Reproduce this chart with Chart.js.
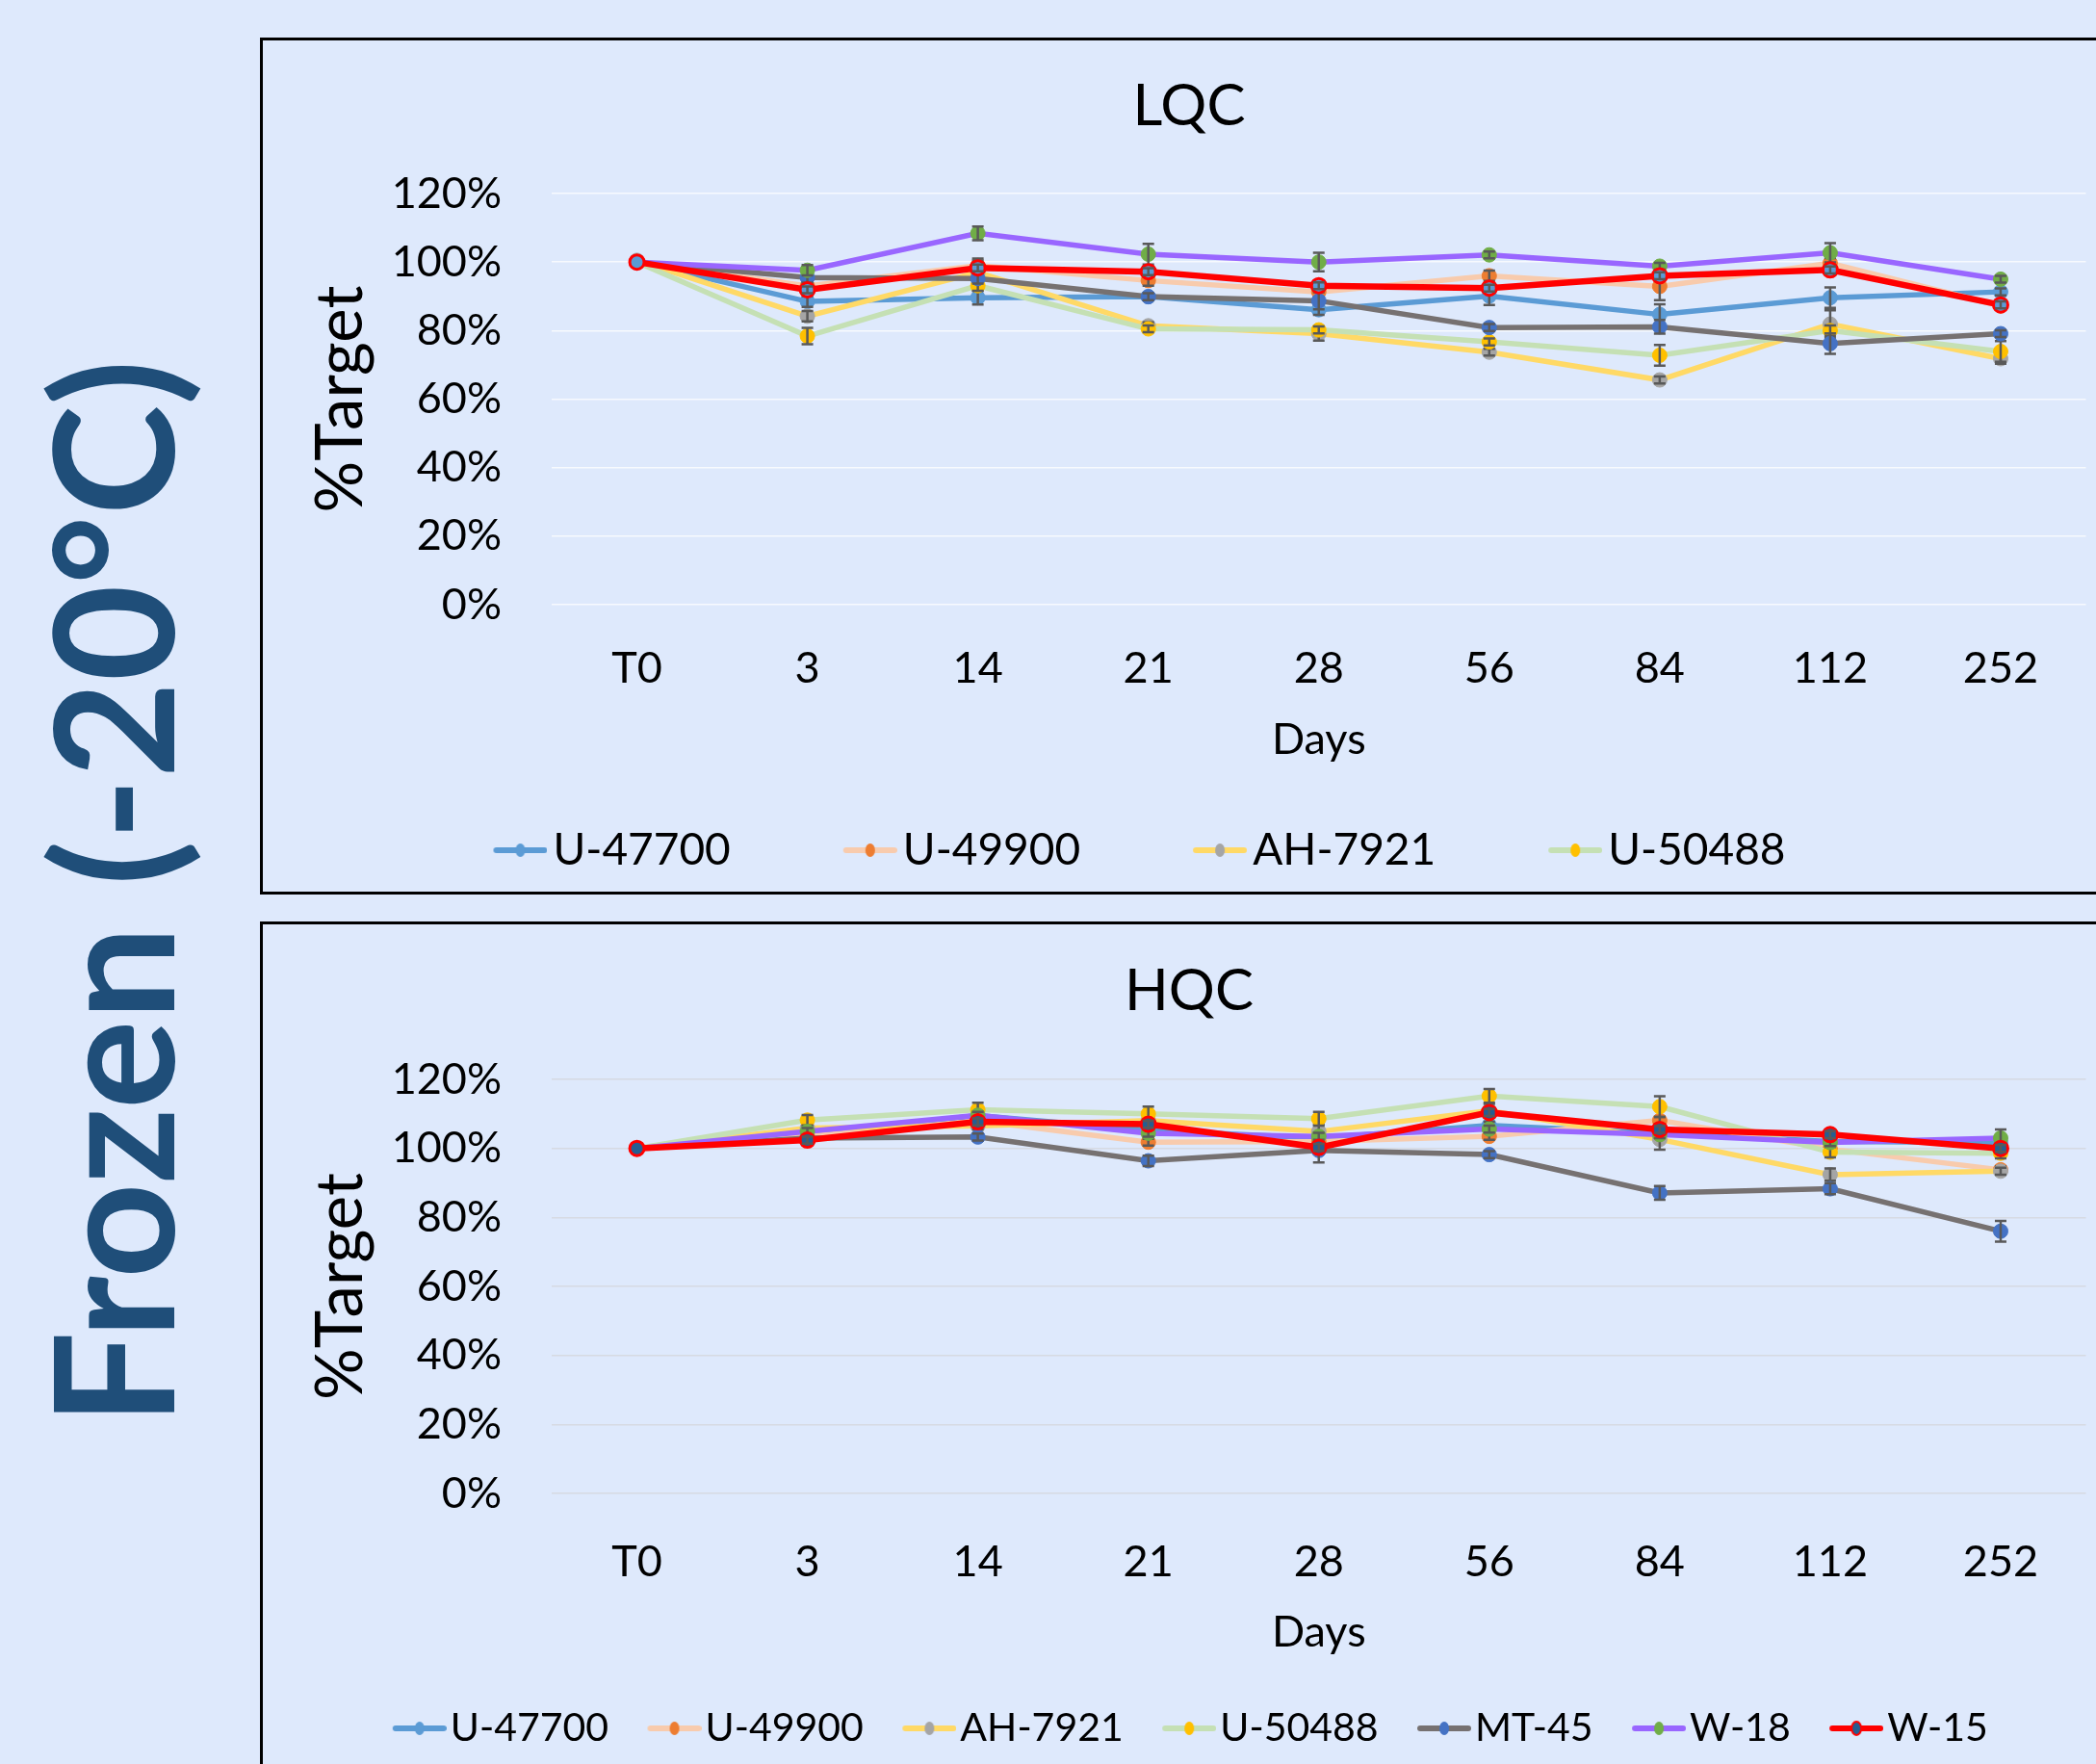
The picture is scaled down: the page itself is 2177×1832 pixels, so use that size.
<!DOCTYPE html>
<html>
<head>
<meta charset="utf-8">
<script src="https://cdn.jsdelivr.net/npm/chart.js"></script>
<style>
  html, body { margin:0; padding:0; }
  body { width:2177px; height:1832px; background:#DEE9FC; position:relative; overflow:hidden; font-family: Lato, "Open Sans", sans-serif; }
  .big { position:absolute; left:114px; top:927px; transform: translate(-50%,-50%) rotate(-90deg); white-space:nowrap;
         font-family: Lato, sans-serif; font-weight:700; font-size:173px; color:#1F4E79; line-height:1; }
  .panel { position:absolute; border:3px solid #000; box-sizing:border-box; }
  canvas { position:absolute; }
</style>
</head>
<body>
<div class="big">Frozen (-20°C)</div>
<div class="panel" style="left:270px; top:39px; width:2100px; height:890px;"></div>
<div class="panel" style="left:270px; top:957px; width:2100px; height:1000px;"></div>
<canvas id="lqc" width="1904" height="884" style="left:273px; top:42px;"></canvas>
<canvas id="hqc" width="1904" height="872" style="left:273px; top:960px;"></canvas>
<script>
// ---------------- DATA ----------------
const days = ['T0', '3', '14', '21', '28', '56', '84', '112', '252'];
const seriesNames = ['U-47700', 'U-49900', 'AH-7921', 'U-50488', 'MT-45', 'W-18', 'W-15'];
const yTicks = [0, 20, 40, 60, 80, 100, 120];

// LQC (% target)
const lqcU47700 = [100, 88.5, 89.6, 89.9, 86.1, 90.1, 84.7, 89.6, 91.3];
const lqcU49900 = [100, 93.0, 99.0, 94.6, 91.3, 96.0, 92.9, 99.7, 87.2];
const lqcAH7921 = [100.5, 84.2, 97.0, 81.4, 79.1, 73.7, 65.6, 81.9, 71.8];
const lqcU50488 = [100, 78.4, 93.1, 80.5, 80.2, 76.7, 72.8, 80.0, 73.9];
const lqcMT45   = [100, 95.5, 95.2, 89.9, 88.7, 80.9, 81.1, 76.2, 79.1];
const lqcW18    = [100, 97.6, 108.4, 102.3, 100.0, 102.1, 98.8, 102.7, 95.0];
const lqcW15    = [100, 91.9, 98.3, 97.2, 93.1, 92.4, 96.0, 97.7, 87.5];

const lqcErrU47700 = [0, 1.6, 2.0, 1.0, 1.5, 2.6, 3.0, 3.0, 1.0];
const lqcErrU49900 = [0, 1.0, 1.5, 1.5, 1.5, 1.5, 4.0, 1.5, 1.0];
const lqcErrAH7921 = [0.5, 1.5, 4.0, 1.0, 2.0, 1.0, 1.0, 4.0, 1.5];
const lqcErrU50488 = [0, 2.4, 1.5, 1.0, 1.0, 1.0, 3.0, 1.5, 3.0];
const lqcErrMT45   = [0, 1.5, 1.5, 1.0, 2.5, 1.0, 2.0, 3.0, 1.0];
const lqcErrW18    = [0, 1.5, 2.0, 3.0, 2.7, 1.0, 1.0, 2.8, 1.0];
const lqcErrW15    = [0, 1.0, 1.0, 1.0, 1.0, 1.0, 1.0, 1.0, 1.0];

// HQC (% target)
const hqcU47700 = [100, 104.0, 109.5, 105.3, 103.0, 106.7, 104.4, 102.0, 101.7];
const hqcU49900 = [100, 103.5, 108.0, 101.8, 102.0, 103.5, 108.1, 99.8, 93.8];
const hqcAH7921 = [100, 105.9, 106.5, 108.1, 104.9, 110.9, 102.6, 92.4, 93.4];
const hqcU50488 = [100, 108.2, 111.2, 110.0, 108.6, 115.2, 112.1, 98.9, 98.6];
const hqcMT45   = [100, 103.0, 103.3, 96.4, 99.4, 98.2, 87.1, 88.3, 76.0];
const hqcW18    = [100, 104.9, 109.6, 104.4, 103.5, 105.6, 104.0, 101.7, 103.0];
const hqcW15    = [100, 102.4, 107.7, 107.0, 100.3, 110.4, 105.5, 104.0, 100.0];

const hqcErrU47700 = [0, 1, 1, 1, 1, 1, 1, 1, 1];
const hqcErrU49900 = [0, 1, 1, 1, 1, 1, 1, 1, 1];
const hqcErrAH7921 = [0, 1, 1, 2, 2, 2, 3, 1.8, 1];
const hqcErrU50488 = [0, 1.5, 2, 2.1, 2, 2, 3, 1.5, 1.5];
const hqcErrMT45   = [0, 1, 1, 1.5, 3.5, 1, 2, 1.6, 3];
const hqcErrW18    = [0, 1, 1, 1, 1, 1, 1, 1, 2.5];
const hqcErrW15    = [0, 1, 1, 1, 1, 1, 1, 1, 1];

// ---------------- STYLES ----------------
const lineColors   = ['#5B9BD5', '#F8CBAD', '#FFD966', '#C5E0B4', '#767171', '#9966FF', '#FF0000'];
const markerColors = ['#5B9BD5', '#ED7D31', '#A5A5A5', '#FFC000', '#4472C4', '#70AD47', '#5B9BD5'];
const hqcMarkerColors = ['#5B9BD5', '#ED7D31', '#A5A5A5', '#FFC000', '#4472C4', '#70AD47', '#255E91'];
const FONT = 'Lato, "Open Sans", sans-serif';

function makeDatasets(values, errors, mColors) {
  return values.map((v, i) => ({
    label: seriesNames[i],
    data: v,
    errors: errors[i],
    borderColor: lineColors[i],
    backgroundColor: mColors[i],
    borderWidth: i === 6 ? 6.5 : 5.5,
    pointRadius: 7.5,
    pointHoverRadius: 7.5,
    pointBackgroundColor: mColors[i],
    pointBorderColor: i === 6 ? '#FF0000' : mColors[i],
    pointBorderWidth: i === 6 ? 3 : 1,
    tension: 0,
    order: 6 - i
  }));
}

function legendImg(lineColor, dotColor, dotBorder, W, lineLen) {
  const c = document.createElement('canvas');
  c.width = Math.max(W, lineLen); c.height = 18;
  const g = c.getContext('2d');
  g.strokeStyle = lineColor; g.lineWidth = 6; g.lineCap = 'round';
  g.beginPath(); g.moveTo(c.width - lineLen + 3, 9); g.lineTo(c.width - 3, 9); g.stroke();
  g.fillStyle = dotColor;
  g.beginPath(); g.ellipse(c.width - lineLen / 2, 9, 5, 7, 0, 0, Math.PI * 2); g.fill();
  if (dotBorder) { g.strokeStyle = dotBorder; g.lineWidth = 2; g.stroke(); }
  return c;
}

const errorBarPlugin = {
  id: 'errorBars',
  afterDatasetDraw(chart, args) {
    const ds = chart.data.datasets[args.index];
    if (!ds.errors) return;
    const ctx = chart.ctx, xs = chart.scales.x, ys = chart.scales.y;
    ctx.save();
    ctx.strokeStyle = '#595959'; ctx.lineWidth = 2.5;
    ds.data.forEach((v, j) => {
      const e = ds.errors[j];
      if (!e) return;
      const x = xs.getPixelForValue(j);
      const y1 = ys.getPixelForValue(v + e), y2 = ys.getPixelForValue(v - e);
      ctx.beginPath();
      ctx.moveTo(x, y1); ctx.lineTo(x, y2);
      ctx.moveTo(x - 6, y1); ctx.lineTo(x + 6, y1);
      ctx.moveTo(x - 6, y2); ctx.lineTo(x + 6, y2);
      ctx.stroke();
    });
    ctx.restore();
  }
};

// nudges the legend / title boxes horizontally after layout (plot area untouched)
const boxShiftPlugin = {
  id: 'boxShift',
  afterLayout(chart, args, opts) {
    if (chart.legend && opts.legendDx) { chart.legend.left += opts.legendDx; chart.legend.right += opts.legendDx; }
    if (chart.titleBlock && opts.titleDx) { chart.titleBlock.left += opts.titleDx; chart.titleBlock.right += opts.titleDx; }
  }
};

function makeChart(id, cfg) {
  const f = cfg.legendFont, P = cfg.legendBox, gapT = cfg.legendTextGap;
  const imgW = P + f - 2 * gapT;
  return new Chart(document.getElementById(id), {
    type: 'line',
    data: { labels: days, datasets: makeDatasets(cfg.values, cfg.errors, cfg.markers) },
    plugins: [errorBarPlugin, boxShiftPlugin],
    options: {
      responsive: false, animation: false, devicePixelRatio: 1,
      layout: { padding: { left: 0, right: 8, top: 0, bottom: cfg.padBottom } },
      plugins: {
        boxShift: { legendDx: cfg.legendDx, titleDx: cfg.titleDx },
        title: { display: true, text: cfg.title, color: '#000',
                 font: { family: FONT, size: 60, weight: 'normal' },
                 padding: { top: cfg.titleTop, bottom: cfg.titleBottom } },
        legend: {
          position: 'bottom',
          labels: {
            color: '#000', font: { family: FONT, size: f }, padding: cfg.legendPad,
            usePointStyle: true, pointStyleWidth: P,
            generateLabels: (chart) => chart.data.datasets.map((ds, i) => ({
              text: ds.label, datasetIndex: i, hidden: false, lineWidth: 0,
              fillStyle: ds.pointBackgroundColor, strokeStyle: ds.borderColor, fontColor: '#000',
              pointStyle: legendImg(ds.borderColor, ds.pointBackgroundColor, i === 6 ? '#FF0000' : null, imgW, cfg.legendLine)
            })),
            filter: (item) => item.datasetIndex < cfg.legendCount
          }
        },
        tooltip: { enabled: false }
      },
      scales: {
        x: {
          offset: true,
          grid: { display: false, drawTicks: false },
          border: { display: false },
          ticks: { color: '#000', font: { family: FONT, size: 45 }, padding: cfg.xTickPad, maxRotation: 0 },
          title: { display: true, text: 'Days', color: '#000', font: { family: FONT, size: 45 },
                   padding: { top: cfg.daysTop, bottom: cfg.daysBottom } }
        },
        y: {
          min: 0, max: 120,
          afterBuildTicks: (s) => { s.ticks = yTicks.map(v => ({ value: v })); },
          afterFit: (s) => { s.width = 300; },
          grid: { color: cfg.gridColor, lineWidth: 1.5, drawTicks: false },
          border: { display: false },
          ticks: { color: '#000', font: { family: FONT, size: 45 }, padding: 52, callback: (v) => v + '%' },
          title: { display: true, text: '%Target', color: '#000', font: { family: FONT, size: 67 },
                   padding: { top: 41, bottom: 0 } }
        }
      }
    }
  });
}

makeChart('lqc', {
  title: 'LQC',
  values: [lqcU47700, lqcU49900, lqcAH7921, lqcU50488, lqcMT45, lqcW18, lqcW15],
  errors: [lqcErrU47700, lqcErrU49900, lqcErrAH7921, lqcErrU50488, lqcErrMT45, lqcErrW18, lqcErrW15],
  markers: markerColors,
  titleTop: 33, titleBottom: 54, xTickPad: 39, daysTop: -19, daysBottom: 45,
  legendFont: 46, legendBox: 136, legendPad: 20, legendTextGap: 6, legendLine: 56, legendCount: 4,
  legendDx: -86, titleDx: 14,
  padBottom: 10, gridColor: 'rgba(255,255,255,0.75)'
});

makeChart('hqc', {
  title: 'HQC',
  values: [hqcU47700, hqcU49900, hqcAH7921, hqcU50488, hqcMT45, hqcW18, hqcW15],
  errors: [hqcErrU47700, hqcErrU49900, hqcErrAH7921, hqcErrU50488, hqcErrMT45, hqcErrW18, hqcErrW15],
  markers: hqcMarkerColors,
  titleTop: 34, titleBottom: 55, xTickPad: 44, daysTop: -25, daysBottom: 32.5,
  legendFont: 41, legendBox: 60, legendPad: 20, legendTextGap: 4, legendLine: 56, legendCount: 7,
  legendDx: 5, titleDx: 14,
  padBottom: 6.5, gridColor: '#D6DAE2'
});
</script>
</body>
</html>
